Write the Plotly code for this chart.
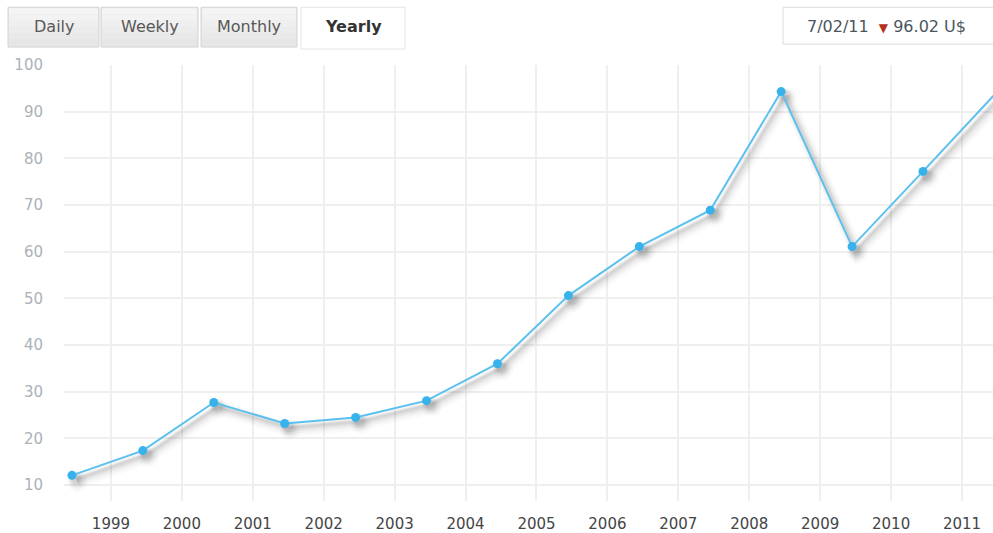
import plotly.graph_objects as go

# Yearly closing series (value plotted at mid-year)
years = [1998, 1999, 2000, 2001, 2002, 2003, 2004, 2005, 2006, 2007, 2008, 2009, 2010, 2011]
values = [12.1, 17.4, 27.7, 23.2, 24.5, 28.1, 36.0, 50.6, 61.1, 68.9, 94.3, 61.1, 77.2, 93.5]
tick_years = list(range(1999, 2012))
y_ticks = [10, 20, 30, 40, 50, 60, 70, 80, 90, 100]
periods = ["Daily", "Weekly", "Monthly", "Yearly"]
active_period = "Yearly"
quote_date = "7/02/11"
quote_value = 96.02
quote_unit = "U$"

MID = 0.45
xs = [y + MID for y in years]

FONT = "DejaVu Sans, Liberation Sans, Arial"
W, H = 993, 533
L, R, T, B = 64, 0, 65, 30
PW, PH = W - L - R, H - T - B


def px(x):
    return (x - L) / PW


def py(y):
    return (H - B - y) / PH


fig = go.Figure()

# soft, blurred drop shadow beneath the line
for w, op, dx, dy in [(14, 0.025, 0.075, -1.3), (10, 0.035, 0.07, -1.2), (7, 0.045, 0.065, -1.1),
                      (4.5, 0.055, 0.06, -1.0), (2.5, 0.06, 0.055, -0.9)]:
    fig.add_trace(go.Scatter(
        x=[x + dx for x in xs], y=[v + dy for v in values], mode="lines+markers",
        line=dict(color=f"rgba(50,50,50,{op})", width=w),
        marker=dict(size=w + 7, color=f"rgba(50,50,50,{op})"),
        hoverinfo="skip", showlegend=False, cliponaxis=False,
    ))

fig.add_trace(go.Scatter(
    x=xs, y=values, mode="lines+markers",
    line=dict(color="#5cc0ee", width=2),
    marker=dict(size=9, color="#37b2ea"),
    showlegend=False, cliponaxis=False,
))

fig.update_xaxes(
    range=[1998.338, 2011.437], tickmode="array", tickvals=tick_years,
    ticktext=[str(t) for t in tick_years],
    showgrid=True, gridcolor="#efefef", gridwidth=2, zeroline=False,
    showline=False, ticks="outside", ticklen=9, tickcolor="rgba(0,0,0,0)",
    tickfont=dict(family=FONT, size=15, color="#454545"),
    fixedrange=True,
)
fig.update_yaxes(
    range=[6.6, 100], tickmode="array", tickvals=y_ticks,
    showgrid=True, gridcolor="#efefef", gridwidth=2, zeroline=False,
    showline=False, ticks="outside", ticklen=17, tickcolor="rgba(0,0,0,0)",
    tickfont=dict(family=FONT, size=15, color="#aab2b7"),
    fixedrange=True,
)

shapes = []
annotations = []

# period selector buttons
btn_bounds = [(8, 99), (101, 198), (201, 297), (301, 405)]
grad = ["#f5f5f5", "#f2f2f2", "#efefef", "#ececec", "#e9e9e9", "#e6e6e6"]
for name, (x0, x1) in zip(periods, btn_bounds):
    active = name == active_period
    y0, y1 = 7, 47
    if active:
        shapes.append(dict(type="rect", xref="paper", yref="paper",
                           x0=px(x0), x1=px(x1), y0=py(y1 + 2), y1=py(y0),
                           fillcolor="#ffffff", line=dict(color="#e4e4e4", width=1), layer="above"))
    else:
        shapes.append(dict(type="rect", xref="paper", yref="paper",
                           x0=px(x0), x1=px(x1), y0=py(y1), y1=py(y0),
                           fillcolor=grad[-1], line=dict(color="#d4d4d4", width=1), layer="above"))
        step = (y1 - y0 - 2) / len(grad)
        for i, c in enumerate(grad):
            shapes.append(dict(type="rect", xref="paper", yref="paper",
                               x0=px(x0 + 1), x1=px(x1 - 1),
                               y0=py(y0 + 1 + (i + 1) * step), y1=py(y0 + 1 + i * step),
                               fillcolor=c, line=dict(width=0), layer="above"))
    annotations.append(dict(
        xref="paper", yref="paper", x=px((x0 + x1) / 2), y=py(26),
        text=f"<b>{name}</b>" if active else name, showarrow=False,
        xanchor="center", yanchor="middle",
        font=dict(family=FONT, size=16, color="#333" if active else "#585858"),
    ))

# latest quote box
shapes.append(dict(type="rect", xref="paper", yref="paper",
                   x0=px(783), x1=px(1000), y0=py(44), y1=py(7),
                   fillcolor="#ffffff", line=dict(color="#dcdcdc", width=1), layer="above"))
annotations.append(dict(
    xref="paper", yref="paper", x=px(805), y=py(26), xanchor="left", yanchor="middle",
    showarrow=False,
    text=f"{quote_date}  <span style='color:#b3301a;font-size:12px'>▼</span> {quote_value:.2f} {quote_unit}",
    font=dict(family=FONT, size=16, color="#4b5660"),
))

fig.update_layout(
    width=W, height=H,
    margin=dict(l=L, r=R, t=T, b=B),
    paper_bgcolor="white", plot_bgcolor="white",
    shapes=shapes, annotations=annotations,
    hovermode="closest",
)

fig.write_html("out.html", config={"displayModeBar": False})
